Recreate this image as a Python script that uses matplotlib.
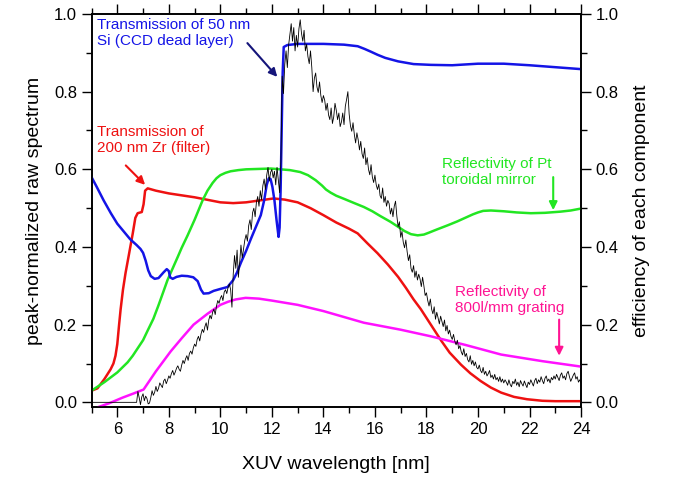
import numpy as np
import matplotlib
matplotlib.use('Agg')
import matplotlib.pyplot as plt
from matplotlib.ticker import MultipleLocator, FormatStrFormatter

plt.rcParams['font.family'] = ['Liberation Sans', 'DejaVu Sans']

# Transmission of 50 nm Si (CCD dead layer)
si_wl = [5.0, 5.2, 5.47, 5.75, 6.0, 6.25, 6.5, 6.75, 6.9, 7.0, 7.1, 7.2, 7.3, 7.45, 7.6,
         7.8, 7.92, 8.0, 8.05, 8.15, 8.3, 8.5, 8.73, 8.95, 9.12, 9.25, 9.35, 9.55, 9.74,
         10.0, 10.28, 10.5, 10.65, 10.8, 11.0, 11.18, 11.4, 11.57, 11.7, 11.8, 11.88,
         11.95, 12.02, 12.1, 12.18, 12.26, 12.3, 12.34, 12.38, 12.42, 12.46, 12.6, 13.0,
         14.0, 14.8, 15.33, 15.6, 15.84, 16.1, 16.4, 16.9, 17.5, 18.17, 19.0, 20.0,
         21.0, 22.0, 23.0, 24.0]
si_tr = [0.58, 0.555, 0.52, 0.487, 0.46, 0.44, 0.42, 0.405, 0.395, 0.385, 0.365, 0.34, 0.325, 0.318, 0.32,
         0.335, 0.343, 0.338, 0.322, 0.318, 0.323, 0.326, 0.325, 0.322, 0.312, 0.29, 0.28, 0.281, 0.287,
         0.292, 0.297, 0.315, 0.335, 0.36, 0.39, 0.42, 0.455, 0.482, 0.52, 0.56, 0.577,
         0.575, 0.555, 0.52, 0.47, 0.426, 0.45, 0.55, 0.70, 0.85, 0.915, 0.92, 0.923,
         0.923, 0.921, 0.917, 0.91, 0.903, 0.895, 0.887, 0.878, 0.871, 0.869, 0.868, 0.872,
         0.872, 0.868, 0.863, 0.858]

# Transmission of 200 nm Zr (filter)
zr_wl = [5.0, 5.23, 5.5, 5.74, 5.85, 5.93, 6.0, 6.07, 6.13, 6.22, 6.32, 6.45, 6.6, 6.7,
         6.79, 6.95, 7.02, 7.08, 7.18, 7.5, 8.0, 9.0, 10.0, 10.5, 11.0, 12.07, 12.5, 13.0,
         13.5, 14.0, 14.5, 15.0, 15.33, 15.7, 16.1, 16.5, 16.9, 17.2, 17.5, 17.78, 18.17,
         18.56, 18.9, 19.34, 19.7, 20.1, 20.5, 20.9, 21.4, 21.9, 22.5, 23.0, 24.0]
zr_tr = [0.03, 0.036, 0.06, 0.085, 0.10, 0.12, 0.15, 0.20, 0.24, 0.29, 0.333, 0.38, 0.435, 0.475,
         0.487, 0.49, 0.51, 0.545, 0.551, 0.545, 0.538, 0.528, 0.515, 0.513, 0.515, 0.525, 0.522, 0.515,
         0.50, 0.482, 0.463, 0.447, 0.435, 0.41, 0.384, 0.355, 0.323, 0.295, 0.265, 0.24, 0.20,
         0.16, 0.128, 0.097, 0.075, 0.055, 0.038, 0.025, 0.014, 0.008, 0.004, 0.003, 0.003]

# Reflectivity of Pt toroidal mirror
pt_wl = [5.0, 5.5, 6.0, 6.4, 6.6, 6.8, 7.0, 7.18, 7.4, 7.6, 7.8, 7.95, 8.15, 8.35, 8.5,
         8.73, 9.0, 9.31, 9.5, 9.7, 9.85, 10.0, 10.2, 10.4, 10.7, 11.0, 11.96, 12.7, 13.1,
         13.4, 13.7, 13.95, 14.1, 14.28, 14.5, 14.8, 15.2, 15.57, 15.9, 16.2, 16.6, 16.9,
         17.15, 17.4, 17.66, 17.9, 18.1, 18.4, 18.83, 19.2, 19.5, 19.8, 20.0, 20.2, 20.5,
         21.0, 21.5, 22.05, 22.6, 23.2, 23.6, 24.0]
pt_refl = [0.03, 0.052, 0.077, 0.103, 0.12, 0.14, 0.16, 0.185, 0.215, 0.25, 0.287, 0.315, 0.345, 0.375, 0.398,
           0.43, 0.47, 0.52, 0.545, 0.565, 0.577, 0.585, 0.591, 0.595, 0.598, 0.60, 0.602, 0.598, 0.593,
           0.585, 0.572, 0.558, 0.548, 0.54, 0.532, 0.524, 0.513, 0.503, 0.492, 0.48, 0.465, 0.452,
           0.441, 0.433, 0.43, 0.432, 0.437, 0.445, 0.456, 0.466, 0.475, 0.484, 0.489, 0.493, 0.494,
           0.492, 0.489, 0.487, 0.488, 0.491, 0.494, 0.499]

# Reflectivity of 800 l/mm grating
gr_wl = [5.0, 5.27, 5.7, 6.2, 6.6, 7.02, 7.5, 8.07, 8.5, 8.96, 9.5, 10.0, 10.3, 10.6, 10.98,
         11.5, 12.0, 13.0, 14.0, 15.57, 17.0, 18.17, 19.5, 20.9, 22.5, 24.0]
gr_refl = [-0.03, -0.012, -0.002, 0.012, 0.022, 0.033, 0.08, 0.131, 0.165, 0.20, 0.228, 0.251, 0.259, 0.265, 0.269,
           0.267, 0.262, 0.251, 0.235, 0.205, 0.187, 0.17, 0.148, 0.123, 0.106, 0.092]

# peak-normalized raw spectrum, sampled every 0.05 nm from 6.80 nm
spec_start = 6.80
spec_step = 0.05
spec = [
    0.028, 0.012, -0.006, 0.014,
    0.022, 0.004, 0.016, 0.010, -0.004, -0.002, 0.012, 0.030, 0.018, 0.026,
    0.041, 0.028, 0.036, 0.050, 0.044, 0.038, 0.055, 0.060, 0.048, 0.057,
    0.068, 0.062, 0.074, 0.082, 0.070, 0.078, 0.088, 0.094, 0.085, 0.080,
    0.096, 0.108, 0.100, 0.112, 0.120, 0.108, 0.126, 0.132, 0.124, 0.140,
    0.150, 0.144, 0.162, 0.170, 0.158, 0.176, 0.188, 0.180, 0.195, 0.205,
    0.186, 0.212, 0.224, 0.215, 0.232, 0.240, 0.226, 0.248, 0.262, 0.255,
    0.268, 0.275, 0.262, 0.284, 0.290, 0.280, 0.296, 0.305, 0.290, 0.245,
    0.330, 0.378, 0.345, 0.392, 0.322, 0.360, 0.405, 0.372, 0.395, 0.418,
    0.432, 0.415, 0.455, 0.470, 0.445, 0.488, 0.500, 0.478, 0.515, 0.530,
    0.505, 0.545, 0.522, 0.558, 0.575, 0.548, 0.585, 0.605, 0.570, 0.592,
    0.600, 0.578, 0.595, 0.560, 0.605, 0.572, 0.540, 0.620, 0.840, 0.795,
    0.870, 0.905, 0.862, 0.920, 0.948, 0.975, 0.930, 0.965, 0.905, 0.945,
    0.915, 0.962, 0.985, 0.950, 0.930, 0.958, 0.905, 0.922, 0.890, 0.872,
    0.905, 0.862, 0.800, 0.835, 0.848, 0.812, 0.798, 0.825, 0.790, 0.772,
    0.790, 0.778, 0.752, 0.770, 0.740, 0.728, 0.758, 0.718, 0.735, 0.770,
    0.752, 0.728, 0.745, 0.710, 0.722, 0.745, 0.715, 0.762, 0.780, 0.800,
    0.742, 0.712, 0.698, 0.720, 0.690, 0.668, 0.694, 0.676, 0.650, 0.672,
    0.640, 0.628, 0.655, 0.612, 0.630, 0.600, 0.586, 0.612, 0.580, 0.566,
    0.585, 0.560, 0.548, 0.562, 0.532, 0.525, 0.552, 0.515, 0.530, 0.505,
    0.520, 0.512, 0.485, 0.500, 0.478, 0.505, 0.518, 0.480, 0.452, 0.465,
    0.425, 0.440, 0.412, 0.398, 0.418, 0.388, 0.365, 0.380, 0.345, 0.335,
    0.352, 0.322, 0.338, 0.315, 0.330, 0.318, 0.298, 0.322, 0.300, 0.275,
    0.282, 0.262, 0.248, 0.266, 0.240, 0.228, 0.246, 0.214, 0.232, 0.218,
    0.202, 0.222, 0.208, 0.195, 0.212, 0.184, 0.198, 0.176, 0.186, 0.170,
    0.162, 0.175, 0.158, 0.148, 0.160, 0.138, 0.146, 0.130, 0.122, 0.138,
    0.118, 0.126, 0.110, 0.104, 0.120, 0.098, 0.108, 0.094, 0.104, 0.090,
    0.086, 0.096, 0.082, 0.076, 0.090, 0.072, 0.080, 0.068, 0.074, 0.082,
    0.064, 0.070, 0.060, 0.072, 0.058, 0.064, 0.054, 0.066, 0.052, 0.060,
    0.050, 0.058, 0.052, 0.044, 0.058, 0.046, 0.040, 0.054, 0.048, 0.060,
    0.044, 0.052, 0.040, 0.056, 0.048, 0.042, 0.055, 0.046, 0.038, 0.052,
    0.046, 0.058, 0.050, 0.042, 0.056, 0.062, 0.048, 0.058, 0.052, 0.066,
    0.056, 0.048, 0.062, 0.068, 0.054, 0.060, 0.050, 0.064, 0.058, 0.068,
    0.060, 0.072, 0.064, 0.056, 0.070, 0.076, 0.062, 0.068, 0.058, 0.074,
    0.080, 0.066, 0.054, 0.062, 0.070, 0.076, 0.060, 0.066, 0.052, 0.058,
    0.050,
]
# spectrum is zero below the Zr edge
zero_wl = [5.0, 6.75]

spec_wl = spec_start + spec_step * np.arange(len(spec))
spec_x = np.concatenate([zero_wl, spec_wl])
spec_y = np.concatenate([np.zeros(len(zero_wl)), spec])

fig = plt.figure(figsize=(6.75, 4.84), dpi=100)
ax = fig.add_axes([0.1356, 0.1591, 0.7252, 0.812])

ax.plot(spec_x, spec_y, color='black', lw=0.6, zorder=5)
ax.plot(si_wl, si_tr, color='#1414e6', lw=1.8, zorder=4)
ax.plot(zr_wl, zr_tr, color='#ee1111', lw=1.8, zorder=3)
ax.plot(pt_wl, pt_refl, color='#22e622', lw=1.8, zorder=3)
ax.plot(gr_wl, gr_refl, color='#ff11ff', lw=1.8, zorder=3)

ax.set_xlim(5, 24)
ax.set_ylim(-0.012, 1.0)

ax.xaxis.set_minor_locator(MultipleLocator(1))
ax.yaxis.set_major_locator(MultipleLocator(0.2))
ax.yaxis.set_minor_locator(MultipleLocator(0.1))
ax.yaxis.set_major_formatter(FormatStrFormatter('%.1f'))
ax.set_xticks([6, 8, 10, 12, 14, 16, 18, 20, 22, 24])
ax.tick_params(which='both', direction='out', top=True, labelsize=12, width=1)
ax.tick_params(which='major', length=7)
ax.tick_params(which='minor', length=4)
for s in ax.spines.values():
    s.set_linewidth(1.2)

ax2 = ax.twinx()
ax2.set_ylim(ax.get_ylim())
ax2.yaxis.set_major_locator(MultipleLocator(0.2))
ax2.yaxis.set_minor_locator(MultipleLocator(0.1))
ax2.yaxis.set_major_formatter(FormatStrFormatter('%.1f'))
ax2.tick_params(which='both', direction='out', labelsize=12, width=1)
ax2.tick_params(which='major', length=7)
ax2.tick_params(which='minor', length=4)
for s in ax2.spines.values():
    s.set_linewidth(1.2)

ax.set_xlabel('XUV wavelength [nm]', fontsize=14, labelpad=14)
ax.set_ylabel('peak-normalized raw spectrum', fontsize=14, labelpad=8)
ax2.set_ylabel('efficiency of each component', fontsize=14, labelpad=10)

# annotations
arrow_kw = dict(arrowstyle='-|>', lw=1.5, mutation_scale=12, shrinkA=0, shrinkB=0)

ax.text(5.21, 0.99, 'Transmission of 50 nm\nSi (CCD dead layer)', color='#1414e6',
        fontsize=11, va='top', ha='left')
ax.annotate('', xy=(12.21, 0.838), xytext=(11.05, 0.925),
            arrowprops=dict(color='#15157a', **arrow_kw))

ax.text(5.21, 0.715, 'Transmission of\n200 nm Zr (filter)', color='#ee1111',
        fontsize=11, va='top', ha='left')
ax.annotate('', xy=(7.08, 0.56), xytext=(6.33, 0.61),
            arrowprops=dict(color='#ee1111', **arrow_kw))

ax.text(18.6, 0.633, 'Reflectivity of Pt\ntoroidal mirror', color='#22e622',
        fontsize=11, va='top', ha='left')
ax.annotate('', xy=(22.92, 0.495), xytext=(22.92, 0.58),
            arrowprops=dict(color='#22e622', **arrow_kw))

ax.text(19.11, 0.303, 'Reflectivity of\n800l/mm grating', color='#ff1493',
        fontsize=11, va='top', ha='left')
ax.annotate('', xy=(23.15, 0.12), xytext=(23.15, 0.213),
            arrowprops=dict(color='#ff1493', **arrow_kw))

fig.savefig('out.png', dpi=100)
